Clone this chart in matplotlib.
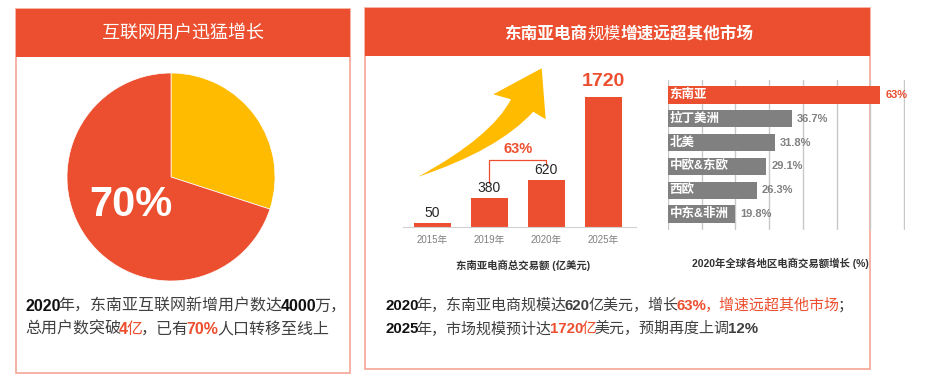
import matplotlib
matplotlib.use('Agg')
import matplotlib.pyplot as plt
from matplotlib.patches import Rectangle, PathPatch
from matplotlib.path import Path

plt.rcParams['font.family'] = ['Liberation Sans', 'Noto Sans CJK SC', 'DejaVu Sans']
FONTS = ['Liberation Sans', 'Noto Sans CJK SC', 'DejaVu Sans']

# 数据
user_share = [30, 70]          # 黄色 / 红色
years = ['2015年', '2019年', '2020年', '2025年']
gmv = [50, 380, 620, 1720]
regions = ['东南亚', '拉丁美洲', '北美', '中欧&东欧', '西欧', '中东&非洲']
growth = [63, 36.7, 31.8, 29.1, 26.3, 19.8]

RED = '#EC4F2F'
YELLOW = '#FFBB00'
GRAY = '#808080'
BORDER = '#F4A595'
DARK = '#404040'
BLACK = '#111111'

W, H = 934, 380
fig = plt.figure(figsize=(W / 100, H / 100), dpi=100)
fig.patch.set_facecolor('white')


def px_axes(x0, y0, x1, y1, z=1):
    a = fig.add_axes([x0 / W, 1 - y1 / H, (x1 - x0) / W, (y1 - y0) / H])
    a.set_zorder(z)
    a.patch.set_alpha(0)
    return a


# 底层画布 (像素坐标)
bg = fig.add_axes([0, 0, 1, 1])
bg.set_xlim(0, W)
bg.set_ylim(H, 0)
bg.axis('off')
bg.set_zorder(0)
renderer = fig.canvas.get_renderer()


def rich(x, y, parts, size, center=False, kern=1.8):
    texts = []
    cx = x
    for s, color, weight in parts:
        t = bg.text(cx, y, s, color=color, fontsize=size, fontweight=weight,
                    family=FONTS, va='baseline', ha='left')
        cx += t.get_window_extent(renderer=renderer).width - kern
        texts.append(t)
    if center:
        shift = (cx - x) / 2
        for t in texts:
            t.set_x(t.get_position()[0] - shift)
    return texts


# 面板框
bg.add_patch(Rectangle((16, 9), 334, 364, facecolor='white', edgecolor=BORDER, lw=1.2))
bg.add_patch(Rectangle((16, 9), 334, 48, facecolor=RED, edgecolor='none'))
bg.add_patch(Rectangle((365, 8), 505, 361, facecolor='white', edgecolor=BORDER, lw=1.2))
bg.add_patch(Rectangle((365, 8), 505, 48, facecolor=RED, edgecolor='none'))

bg.text(183, 33, '互联网用户迅猛增长', color='white', fontsize=13,
        family=['Noto Sans CJK SC'], ha='center', va='center')
rich(629, 38.5, [('东南亚电商', 'white', 'bold'), ('规模', 'white', 'normal'),
                 ('增速远超其他市场', 'white', 'bold')], 12, center=True, kern=0)

# 饼图
ax_pie = px_axes(67, 73, 275, 281)
ax_pie.pie(user_share, colors=[YELLOW, RED], startangle=90, counterclock=False,
           wedgeprops=dict(edgecolor='white', linewidth=0.5))
ax_pie.set_xlim(-1, 1)
ax_pie.set_ylim(-1, 1)
ax_pie.set_aspect('equal')
ax_pie.text(-0.39, -0.27, f'{user_share[1]}%', color='white', fontsize=30,
            fontweight='bold', ha='center', va='center', family=FONTS)

rich(25, 311, [('2020', BLACK, 'bold'), ('年，东南亚互联网新增用户数达', DARK, 'normal'),
               ('4000', BLACK, 'bold'), ('万，', DARK, 'normal')], 11.5)
rich(25, 334, [('总用户数突破', DARK, 'normal'), ('4', RED, 'bold'), ('亿', RED, 'normal'),
               ('，已有', DARK, 'normal'), ('70%', RED, 'bold'),
               ('人口转移至线上', DARK, 'normal')], 11.5)

# 黄色箭头
verts = [(418.3, 176.7), (491.7, 136.7), (511, 99.3), (493.3, 94.3), (541.7, 68.3),
         (545.7, 119.3), (533.3, 111.7), (498.3, 150), (418.3, 176.7), (418.3, 176.7)]
codes = [Path.MOVETO, Path.CURVE3, Path.CURVE3, Path.LINETO, Path.LINETO,
         Path.LINETO, Path.LINETO, Path.CURVE3, Path.CURVE3, Path.CLOSEPOLY]
bg.add_patch(PathPatch(Path(verts, codes), facecolor=YELLOW, edgecolor='none'))

# 柱状图: 东南亚电商总交易额
ax_bar = px_axes(403, 60, 636, 227)
pos = range(len(gmv))
ax_bar.bar(pos, gmv, width=0.65, color=RED)
ax_bar.set_xlim(-0.51, 3.57)
ax_bar.set_ylim(0, 2210)
for s in ['top', 'right', 'left']:
    ax_bar.spines[s].set_visible(False)
ax_bar.spines['bottom'].set_color('#d0d0d0')
ax_bar.set_yticks([])
ax_bar.set_xticks(list(pos))
ax_bar.set_xticklabels(years, fontsize=7, color=GRAY, family=FONTS)
ax_bar.tick_params(axis='x', length=0, pad=6)
for i, v in enumerate(gmv[:-1]):
    ax_bar.text(i, v + 40, str(v), ha='center', va='bottom', fontsize=10,
                color='#262626', family=FONTS)
ax_bar.text(3, gmv[3] + 90, str(gmv[3]), ha='center', va='bottom', fontsize=14,
            fontweight='bold', color=RED, family=FONTS)
ax_bar.plot([1, 1, 2, 2], [gmv[1] + 200, 886, 886, gmv[2] + 200], color=RED, lw=0.9)
ax_bar.text(1.5, 1032, '63%', ha='center', va='center', fontsize=10.5,
            fontweight='bold', color=RED, family=FONTS)
bg.text(523, 265, '东南亚电商总交易额 (亿美元)', ha='center', va='center', fontsize=7.5,
        fontweight='bold', color='#333333', family=FONTS)

# 条形图: 各地区增长
ax_h = px_axes(668, 80, 905, 230)
cols = [RED] + [GRAY] * (len(growth) - 1)
ax_h.barh(range(len(growth)), growth, height=0.72, color=cols, zorder=2)
ax_h.set_xlim(0, 70.3)
ax_h.set_ylim(5.67, -0.63)
ax_h.set_xticks(range(0, 71, 10))
ax_h.set_axisbelow(True)
ax_h.grid(axis='x', color='#c8c8c8', lw=1.0)
ax_h.tick_params(length=0, labelbottom=False, labelleft=False)
for s in ax_h.spines.values():
    s.set_visible(False)
for i, (r, g) in enumerate(zip(regions, growth)):
    ax_h.text(0.5, i, r, color='white', fontsize=9, fontweight='bold', va='center',
              ha='left', family=FONTS, zorder=3)
    ax_h.text(g + 1.5, i, f'{g:g}%', color=RED if i == 0 else GRAY, fontsize=8,
              fontweight='bold', va='center', ha='left', family=FONTS, zorder=3)
bg.text(780, 263, '2020年全球各地区电商交易额增长 (%)', ha='center', va='center',
        fontsize=7.5, fontweight='bold', color='#333333', family=FONTS)

rich(385, 310, [('2020', BLACK, 'bold'), ('年，东南亚电商规模达', DARK, 'normal'),
                ('620', DARK, 'bold'), ('亿美元，增长', DARK, 'normal'),
                ('63%', RED, 'bold'), ('，增速远超其他市场', RED, 'normal'),
                ('；', DARK, 'normal')], 10.8)
rich(385, 333, [('2025', BLACK, 'bold'), ('年，市场规模预计达', DARK, 'normal'),
                ('1720', RED, 'bold'), ('亿', RED, 'normal'),
                ('美元，预期再度上调', DARK, 'normal'), ('12%', DARK, 'bold')], 10.8)

fig.savefig('out.png', dpi=100, facecolor='white')
